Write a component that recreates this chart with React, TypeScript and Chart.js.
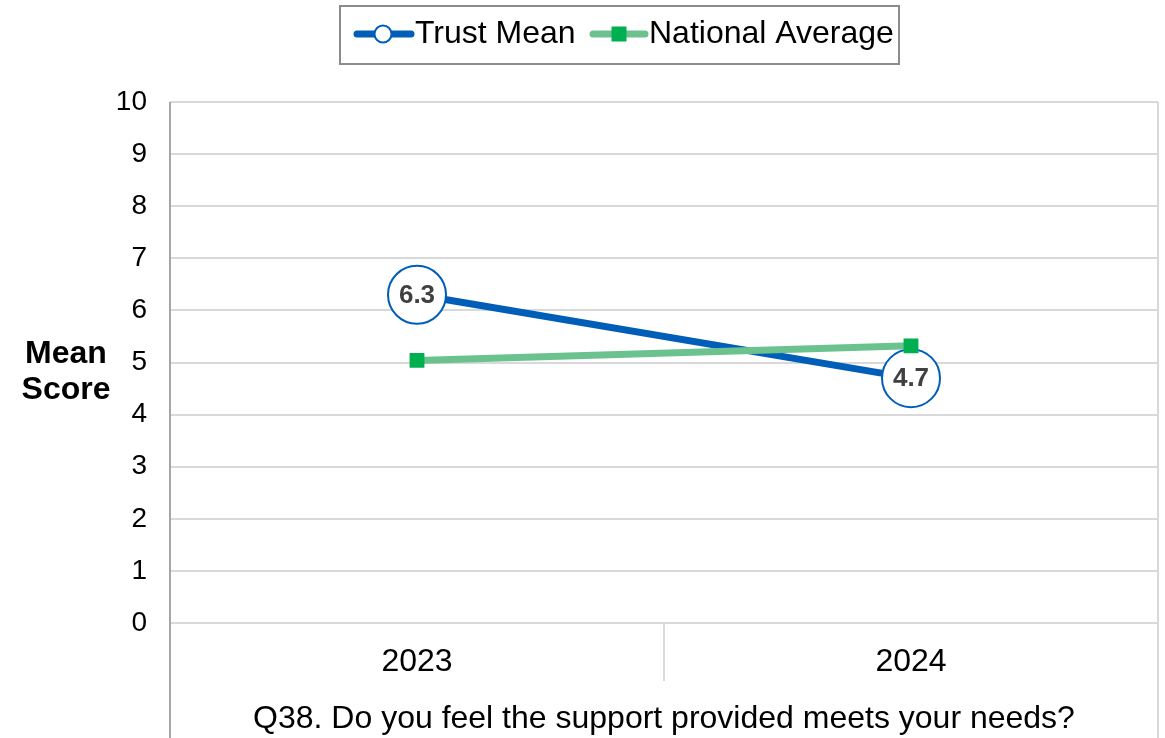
import React, { useEffect, useRef } from 'react';
import { Chart, registerables } from 'chart.js';

Chart.register(...registerables);

const categories = ['2023', '2024'];
const trustMean = [6.3, 4.7];
const nationalAverage = [5.04, 5.32];
const seriesNames = ['Trust Mean', 'National Average'];
const yMin = 0;
const yMax = 10;
const yStep = 1;
const yAxisTitle = ['Mean', 'Score'];
const xAxisTitle = 'Q38. Do you feel the support provided meets your needs?';

const FONT = '"Liberation Sans", Arial, sans-serif';
const BLUE = '#005EB8';
const GREEN_LINE = '#6CC28F';
const GREEN_MARK = '#00B050';
const GRID = '#D9D9D9';
const AXIS = '#A6A6A6';
const LABEL = '#404040';

const decorPlugin = {
  id: 'decor',
  afterDraw(chart: any) {
    const { ctx, chartArea, scales } = chart;
    const { left, right, top, bottom } = chartArea;
    const H = chart.height;
    const x = scales.x;
    const line = (x1: number, y1: number, x2: number, y2: number) => {
      ctx.beginPath();
      ctx.moveTo(x1, y1);
      ctx.lineTo(x2, y2);
      ctx.stroke();
    };
    ctx.save();
    // right border
    ctx.strokeStyle = GRID;
    ctx.lineWidth = 2;
    line(right, top, right, H);
    // category separators below the axis
    for (let i = 0; i < categories.length - 1; i++) {
      const xb = (x.getPixelForValue(i) + x.getPixelForValue(i + 1)) / 2;
      line(xb, bottom, xb, bottom + 58);
    }
    // left axis
    ctx.strokeStyle = AXIS;
    line(left, top, left, H);

    // y-axis title (horizontal)
    ctx.fillStyle = '#000';
    ctx.font = `bold 32px ${FONT}`;
    ctx.textAlign = 'center';
    ctx.textBaseline = 'middle';
    const cy = (top + bottom) / 2 + 10;
    yAxisTitle.forEach((t, i) => {
      ctx.fillText(t, 66, cy + (i - (yAxisTitle.length - 1) / 2) * 36);
    });

    // legend
    const ly = 34;
    ctx.strokeStyle = '#8C8C8C';
    ctx.lineWidth = 2;
    ctx.strokeRect(340, 6, 559, 58);
    ctx.lineCap = 'round';
    // item 1
    ctx.strokeStyle = BLUE;
    ctx.lineWidth = 7;
    line(357, ly, 411, ly);
    ctx.beginPath();
    ctx.arc(383, ly, 8.5, 0, Math.PI * 2);
    ctx.fillStyle = '#fff';
    ctx.fill();
    ctx.lineWidth = 2;
    ctx.stroke();
    ctx.fillStyle = '#000';
    ctx.font = `32px ${FONT}`;
    ctx.textAlign = 'left';
    ctx.fillText(seriesNames[0], 415, ly);
    // item 2
    ctx.strokeStyle = GREEN_LINE;
    ctx.lineWidth = 7;
    line(593, ly, 645, ly);
    ctx.fillStyle = GREEN_MARK;
    ctx.fillRect(619 - 7.5, ly - 7.5, 15, 15);
    ctx.fillStyle = '#000';
    ctx.fillText(seriesNames[1], 649, ly);
    ctx.restore();
  },
  afterDatasetsDraw(chart: any) {
    const { ctx } = chart;
    const meta = chart.getDatasetMeta(0);
    ctx.save();
    ctx.fillStyle = LABEL;
    ctx.font = `bold 26px ${FONT}`;
    ctx.textAlign = 'center';
    ctx.textBaseline = 'middle';
    meta.data.forEach((pt: any, i: number) => {
      ctx.fillText(trustMean[i].toFixed(1), pt.x, pt.y + 1);
    });
    ctx.restore();
  },
};

export default function App() {
  const ref = useRef<HTMLCanvasElement | null>(null);
  useEffect(() => {
    if (!ref.current) return;
    const chart = new Chart(ref.current, {
      type: 'line',
      data: {
        labels: categories,
        datasets: [
          {
            label: seriesNames[0],
            data: trustMean,
            borderColor: BLUE,
            borderWidth: 7,
            pointRadius: 29,
            pointStyle: 'circle',
            pointBackgroundColor: '#fff',
            pointBorderColor: BLUE,
            pointBorderWidth: 2,
            order: 1,
          },
          {
            label: seriesNames[1],
            data: nationalAverage,
            borderColor: GREEN_LINE,
            borderWidth: 7,
            pointRadius: 10.5,
            pointStyle: 'rect',
            pointBackgroundColor: GREEN_MARK,
            pointBorderColor: GREEN_MARK,
            pointBorderWidth: 0,
            order: 0,
          },
        ],
      },
      options: {
        animation: false,
        responsive: false,
        devicePixelRatio: 1,
        events: [],
        layout: { autoPadding: false, padding: { top: 102, right: 7, left: 0, bottom: 0 } },
        plugins: {
          legend: { display: false },
          tooltip: { enabled: false },
        },
        scales: {
          x: {
            type: 'category',
            offset: true,
            grid: { display: false, drawTicks: false },
            border: { display: true, color: GRID, width: 2 },
            ticks: { font: { family: FONT, size: 32 }, color: '#000', padding: 20, maxRotation: 0 },
            title: {
              display: true,
              text: xAxisTitle,
              font: { family: FONT, size: 32 },
              color: '#000',
              padding: { top: 0, bottom: 0 },
            },
            afterFit(scale: any) {
              scale.height = 115;
              scale.paddingLeft = 0;
              scale.paddingRight = 0;
            },
          },
          y: {
            min: yMin,
            max: yMax,
            ticks: { stepSize: yStep, font: { family: FONT, size: 28 }, color: '#000', padding: 23 },
            grid: { color: GRID, lineWidth: 2, drawTicks: false },
            border: { display: false },
            afterFit(scale: any) {
              scale.width = 170;
            },
          },
        },
      },
      plugins: [decorPlugin],
    } as any);
    return () => chart.destroy();
  }, []);
  return (
    <div style={{ position: 'fixed', left: 0, top: 0, width: 1165, height: 738, background: '#fff' }}>
      <canvas ref={ref} width={1165} height={738} style={{ display: 'block', width: 1165, height: 738 }} />
    </div>
  );
}
